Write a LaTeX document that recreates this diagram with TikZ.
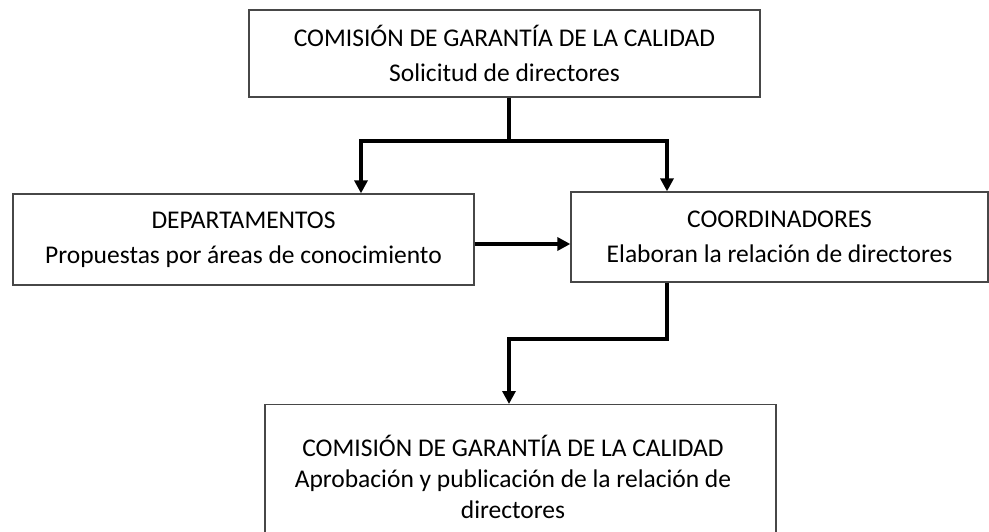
\documentclass[tikz,border=0pt]{standalone}
\usepackage{fontspec}
\setmainfont{Carlito}
\usetikzlibrary{arrows.meta}
\begin{document}
\begin{tikzpicture}[x=1pt,y=-1pt,
  >={Triangle[length=13pt,width=13pt]},
  box/.style={draw=black!72, line width=1.3pt, inner sep=0pt, align=center,
              font=\fontsize{25.5}{35}\selectfont},
  txt/.style={inner sep=0pt, align=center, font=\fontsize{25.5}{31}\selectfont},
  conn/.style={line width=3.2pt, line join=miter, draw=black}]
\clip (0,0) rectangle (989,532);
\useasboundingbox (0,0) rectangle (989,532);

\node[box, minimum width=511pt, minimum height=87pt] (top) at (504.5,53.5)
  {COMISIÓN DE GARANTÍA DE LA CALIDAD\\Solicitud de directores};
\node[box, minimum width=461pt, minimum height=91pt] (dept) at (243.5,239.5)
  {DEPARTAMENTOS\\Propuestas por áreas de conocimiento};
\node[box, minimum width=417pt, minimum height=90pt] (coord) at (779.5,237)
  {COORDINADORES\\Elaboran la relación de directores};
\node[box, minimum width=511pt, minimum height=170pt, anchor=north] (bot) at (520.5,404) {};
\node[txt, anchor=north] (bottxt) at (513,435)
  {COMISIÓN DE GARANTÍA DE LA CALIDAD\\Aprobación y publicación de la relación de\\directores};

\coordinate (stem) at (509,141);
\coordinate (jl) at (361,141);
\coordinate (jr) at (667,141);
\coordinate (ya) at (0,244);
\coordinate (kr) at (667,339);
\coordinate (kl) at (509,339);

\draw[conn] (stem |- top.south) -- (stem);
\draw[conn,<->] (jl |- dept.north) -- (jl) -- (jr) -- (jr |- coord.north);
\draw[conn,->] (dept.east |- ya) -- (coord.west |- ya);
\draw[conn,->] (kr |- coord.south) -- (kr) -- (kl) -- (kl |- bot.north);
\end{tikzpicture}
\end{document}
